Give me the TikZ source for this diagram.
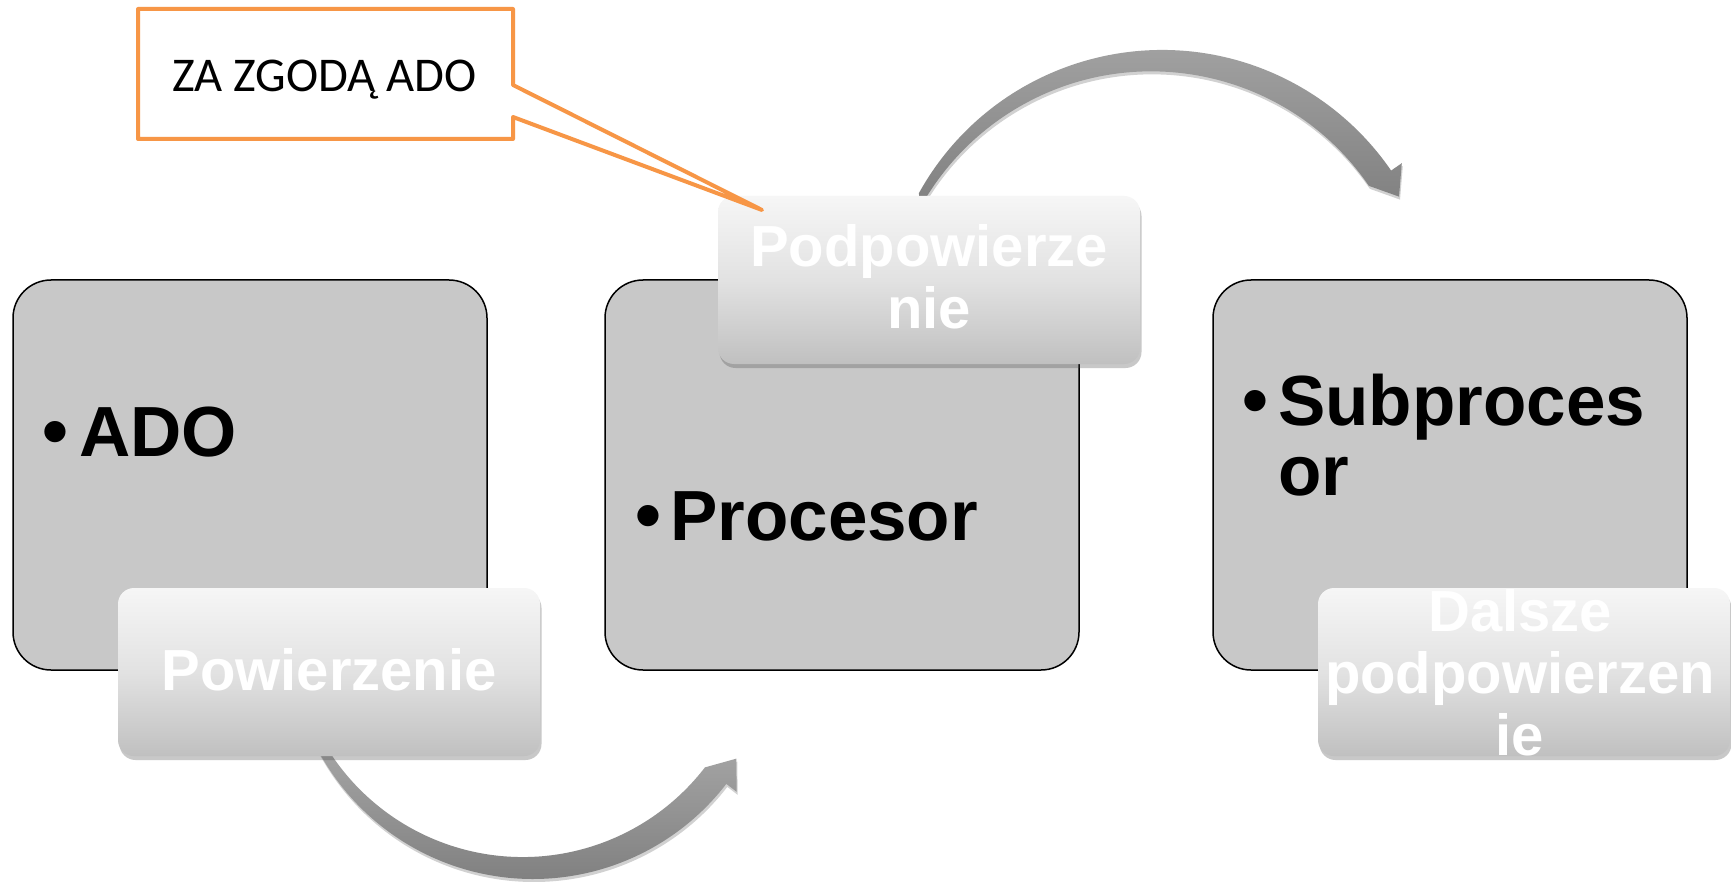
\documentclass[tikz,border=0pt]{standalone}
\usepackage{fontspec}
\setmainfont{Liberation Sans}
\newfontfamily\calibrifont{Carlito}
\usetikzlibrary{shadows}
\definecolor{boxgray}{HTML}{C8C8C8}
\definecolor{orng}{HTML}{F79646}
\definecolor{tagtop}{HTML}{F6F6F6}
\definecolor{tagmid}{HTML}{E2E2E2}
\definecolor{tagbot}{HTML}{C0C0C0}
\definecolor{arrtop}{HTML}{A8A8A8}
\definecolor{arrbot}{HTML}{808080}
\newcommand\mylines[1]{\vtop{\halign{\hfil##\hfil\cr#1\crcr}}}
\begin{document}
\begin{tikzpicture}[x=1pt,y=-1pt,
  bigbox/.style={draw=black, line width=1.5pt, fill=boxgray, rounded corners=38pt,
    minimum width=474pt, minimum height=390pt, inner sep=0pt},
  tagbox/.style={top color=tagtop, bottom color=tagbot, middle color=tagmid,
    rounded corners=16pt, inner sep=0pt, minimum height=168pt,
    drop shadow={shadow xshift=1.5pt, shadow yshift=-4pt, opacity=.3, fill=black!70}},
  bigtxt/.style={font=\bfseries\fontsize{71}{70}\selectfont, inner sep=0pt, anchor=base west},
  bul/.style={font=\bfseries\fontsize{74}{70}\selectfont, inner sep=0pt, anchor=base},
  tagtxt/.style={font=\bfseries\fontsize{58}{62}\selectfont, text=white, inner sep=0pt, anchor=base},
  arrowband/.style={top color=arrtop, bottom color=arrbot,
    drop shadow={shadow xshift=1pt, shadow yshift=-3pt, opacity=.18, fill=black}},
]
\useasboundingbox (0,0) rectangle (1731,882);
\fill[white] (0,0) rectangle (1731,882);

% big boxes
\node[bigbox] (ado) at (250,475) {};
\node[bigbox] (proc) at (842,475) {};
\node[bigbox] (sub) at (1450,475) {};

\node[bul] (b1) at (55,456) {•};
\node[bigtxt] (t1) at (79,456) {ADO};
\node[bul] (b2) at (648,540) {•};
\node[bigtxt] (t2) at (670,540) {Procesor};
\node[bul] (b3) at (1255,425) {•};
\node[bigtxt] (t3) at (1278,425) {\vtop{\hbox{Subproces}\hbox{or}}};

% curved arrows
\begin{scope}[shift={(533,635)}]
  \coordinate (c1) at (0,0);
  \shade[arrowband] (152:244) arc[start angle=152, end angle=37.6, radius=244]
    -- (37.6:257) -- (31.3:238) -- (37.6:217)
    arc[start angle=37.6, end angle=152, radius=230] -- cycle;
\end{scope}
\begin{scope}[shift={(1162,328)}]
  \coordinate (c2) at (0,0);
  \shade[arrowband] (209:278) arc[start angle=209, end angle=325.5, radius=278]
    -- (325.5:291) -- (331:271) -- (325.5:251)
    arc[start angle=325.5, end angle=209, radius=264] -- cycle;
\end{scope}

% tag boxes
\node[tagbox, minimum width=422pt] (pow) at (329,672) {};
\node[tagbox, minimum width=422pt] (podp) at (929,280) {};
\node[tagbox, minimum width=412pt] (dal) at (1524,672) {};

\node[tagtxt] (powt) at (329,690) {Powierzenie};
\node[tagtxt] (podpt) at (929,267) {\mylines{Podpowierze\cr nie}};
\node[tagtxt] (dalt) at (1520,631) {\mylines{Dalsze\cr podpowierzen\cr ie}};

% callout
\draw[orng, line width=4pt, fill=white, line join=round]
  (138,9) -- (513,9) -- (513,85) -- (762,210) -- (513,117) -- (513,139) -- (138,139) -- cycle;
\node[font=\calibrifont\fontsize{48.5}{50}\selectfont, inner sep=0pt, anchor=base west] (za) at (172,92) {ZA ZGODĄ ADO};
\end{tikzpicture}
\end{document}
